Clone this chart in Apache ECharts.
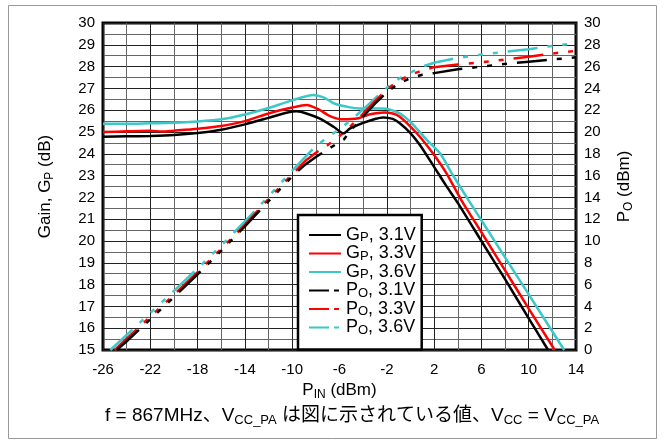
<!DOCTYPE html>
<html><head><meta charset="utf-8">
<script src="https://cdn.jsdelivr.net/npm/echarts@6/dist/echarts.min.js"></script>
<style>html,body{margin:0;padding:0;background:#fff}#c{width:665px;height:445px}</style>
</head><body><div id="c"></div>
<script>
// ---- data ----
const gp31Pin = [-26,-24,-22,-20,-18,-16,-14,-12,-10.5,-9.6,-8.8,-7.7,-6.5,-5.65,-5.1,-4,-3,-2.3,-1.5,-0.9,0,0.8,2,3,4,6,8,10,11.64];
const gp31Val = [24.78,24.8,24.82,24.86,24.95,25.1,25.35,25.65,25.88,25.95,25.85,25.62,25.24,24.94,25.17,25.42,25.6,25.67,25.6,25.4,24.95,24.4,23.4,22.55,21.75,20.0,18.25,16.45,15.0];
const gp33Pin = [-26,-24,-22,-21,-20,-18,-16,-14,-12,-10,-8.8,-7.8,-6.8,-5.7,-4.4,-3.4,-2.2,-1.5,-0.9,0,0.8,2,3,4.3,6,8,10,12.2];
const gp33Val = [25.0,25.03,25.06,25.02,25.06,25.15,25.28,25.5,25.85,26.12,26.24,26.05,25.73,25.58,25.63,25.81,25.9,25.85,25.7,25.25,24.78,23.95,23.15,21.88,20.4,18.65,16.9,15.0];
const gp36Pin = [-26,-24,-22,-20,-18,-16,-14,-12,-10,-8.2,-7.3,-6.5,-5.1,-4.3,-2.3,-1.2,-0.5,0.2,1.4,2.5,3.5,4.9,6,8,10,13];
const gp36Val = [25.38,25.38,25.4,25.42,25.48,25.58,25.8,26.1,26.45,26.7,26.58,26.32,26.13,26.08,26.08,25.93,25.7,25.35,24.63,24.02,23.1,21.88,20.95,19.25,17.55,15.0];

const po31Pin = [-24.84,-24,-22,-20,-18,-16,-14,-12,-10,-9,-8,-7,-6,-5.65,-5,-4,-3,-2,-1,0,1,2,4,6,8,10,12,14];
const po31Val = [0,0.8,2.82,4.86,6.95,9.1,11.35,13.65,15.93,16.92,17.7,18.4,19.07,19.29,20.2,21.42,22.6,23.65,24.45,24.95,25.25,25.4,25.75,26.0,26.25,26.45,26.65,26.85];
const po33Pin = [-25.0,-24,-22,-20,-18,-16,-14,-12,-10,-8.8,-8,-7,-6,-5,-4,-3,-2,-1,0,1,2,4,6,8,10,12,14];
const po33Val = [0,1.03,3.06,5.06,7.15,9.28,11.5,13.85,16.12,17.44,18.1,18.8,19.62,20.6,21.68,22.84,23.9,24.72,25.25,25.65,25.95,26.2,26.4,26.65,26.9,27.2,27.45];
const po36Pin = [-25.38,-24,-22,-20,-18,-16,-14,-12,-10,-8.2,-7,-6,-5,-4,-3,-2,-1,0,1,2,4,6,8,10,12,14];
const po36Val = [0,1.38,3.4,5.42,7.48,9.58,11.8,14.1,16.45,18.5,19.55,20.25,21.12,22.08,23.08,24.05,24.88,25.45,26.0,26.35,26.8,27.1,27.35,27.6,27.9,28.15];

const seriesNames = ['GP, 3.1V','GP, 3.3V','GP, 3.6V','PO, 3.1V','PO, 3.3V','PO, 3.6V'];
const legendLabels = {
  'GP, 3.1V':'{n|G}{s|P}{n|, 3.1V}','GP, 3.3V':'{n|G}{s|P}{n|, 3.3V}','GP, 3.6V':'{n|G}{s|P}{n|, 3.6V}',
  'PO, 3.1V':'{n|P}{s|O}{n|, 3.1V}','PO, 3.3V':'{n|P}{s|O}{n|, 3.3V}','PO, 3.6V':'{n|P}{s|O}{n|, 3.6V}'
};
const xTickLabels = [-26,-22,-18,-14,-10,-6,-2,2,6,10,14];
const captionText = '{n|f = 867MHz、V}{s|CC_PA}{n| は図に示されている値、V}{s|CC}{n| = V}{s|CC_PA}';

// ---- chart ----
const FF = "'Liberation Sans', Arial, 'Noto Sans CJK JP', sans-serif";
const zip = (a,b) => a.map((v,i)=>[v,b[i]]);
function rich(nf, sf, lh){
  lh = lh || nf+4;
  return {
    n:{fontSize:nf, fontFamily:FF, fontWeight:'normal', color:'#000', lineHeight:lh},
    s:{fontSize:sf, fontFamily:FF, fontWeight:'normal', color:'#000', lineHeight:sf+1, verticalAlign:'bottom'}
  };
}
const colors = {'3.1V':'#000000','3.3V':'#ff0000','3.6V':'#3cc8c8'};
const dash = [30,10,5,10,5,10,5,10];
const srcs = [[gp31Pin,gp31Val],[gp33Pin,gp33Val],[gp36Pin,gp36Val],[po31Pin,po31Val],[po33Pin,po33Val],[po36Pin,po36Val]];
const series = seriesNames.map((nm,i)=>{
  const isPo = i>=3;
  const col = colors[nm.slice(-4)];
  return {
    name:nm, type:'line', yAxisIndex: isPo?1:0, data: zip(srcs[i][0], srcs[i][1]),
    showSymbol:false, symbol:'none', smooth: isPo?0:0.25, z: 3+(2-(i%3)),
    lineStyle:{color:col, width:2.5, type: isPo?dash:'solid', cap:'butt'},
    itemStyle:{color:col}
  };
});

const chart = echarts.init(document.getElementById('c'), null, {renderer:'canvas'});
chart.setOption({
  animation:false,
  backgroundColor:'#fff',
  title:{
    text: captionText, left:100, top:399,
    textStyle:{fontWeight:'normal', rich: rich(19,13)}
  },
  graphic:[{type:'rect', shape:{x:8.5,y:5.5,width:648,height:433}, style:{fill:'none', stroke:'#999', lineWidth:1}, z:-1}],
  grid:{left:103, right:89, top:23, bottom:95, show:true, borderColor:'#000', borderWidth:3, backgroundColor:'rgba(0,0,0,0)'},
  legend:{
    data: seriesNames.map((nm,i)=> i>=3 ? {name:nm, lineStyle:{type:[20,5,5,5]}} : {name:nm}),
    orient:'vertical', left:298, top:215,
    backgroundColor:'#fff', borderColor:'#000', borderWidth:2.5,
    padding:[11,6,13,10], itemWidth:32, itemHeight:14, itemGap:0.5,
    itemStyle:{opacity:0},
    formatter: name => legendLabels[name],
    textStyle:{rich: rich(18,13,18)}, z:10
  },
  xAxis:{
    type:'value', min:-26, max:14, interval:2,
    name:'{n|P}{s|IN}{n| (dBm)}', nameLocation:'middle', nameGap:30,
    nameTextStyle:{rich: rich(17,12)},
    axisLine:{show:false}, axisTick:{show:false},
    axisLabel:{color:'#000', fontSize:15, fontFamily:FF, margin:12,
      formatter: v => xTickLabels.indexOf(Math.round(v))>=0 ? String(Math.round(v)) : ''},
    splitLine:{show:true, lineStyle:{color:['#222','#666'], width:1}}
  },
  yAxis:[{
    type:'value', min:15, max:30, interval:1, position:'left',
    name:'{n|Gain, G}{s|P}{n| (dB)}', nameLocation:'middle', nameGap:47, nameRotate:90,
    nameTextStyle:{rich: rich(17,12)},
    axisLine:{show:false}, axisTick:{show:false},
    axisLabel:{color:'#000', fontSize:15, fontFamily:FF, margin:8},
    splitLine:{show:true, lineStyle:{color:'#222', width:1}},
    minorTick:{show:false, splitNumber:2},
    minorSplitLine:{show:true, lineStyle:{color:'#666', width:1}}
  },{
    type:'value', min:0, max:30, interval:2, position:'right',
    name:'{n|P}{s|O}{n| (dBm)}', nameLocation:'middle', nameGap:38, nameRotate:90,
    nameTextStyle:{rich: rich(17,12)},
    axisLine:{show:false}, axisTick:{show:false},
    axisLabel:{color:'#000', fontSize:15, fontFamily:FF, margin:8},
    splitLine:{show:false}
  }],
  series: series
});
</script></body></html>
